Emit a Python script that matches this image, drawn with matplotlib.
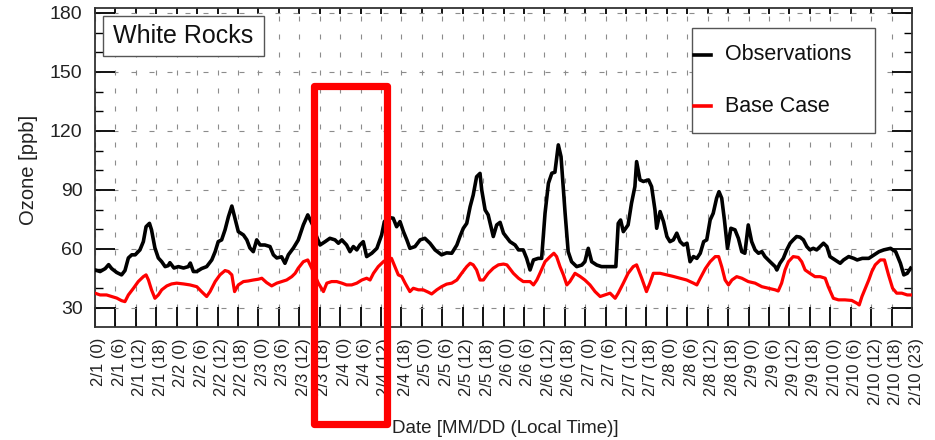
import numpy as np
import matplotlib
matplotlib.use("Agg")
import matplotlib.pyplot as plt
from matplotlib.patches import Rectangle
from matplotlib.lines import Line2D
from matplotlib.transforms import ScaledTranslation

plt.rcParams['font.family'] = ['Liberation Sans', 'DejaVu Sans']

site_name = "White Rocks"

# hours since 2/1 00:00 local time
obs_hours = [0, 1.5, 3, 4, 4.9, 6.4, 7.8, 8.8, 9.8, 10.8, 11.8, 13.2, 14.2, 15, 16, 16.6,
             17.6, 18.6, 19.6, 20.6, 21.5, 22, 23.2, 24.5, 26, 27.4, 28, 28.9, 29.9, 31.3,
             32.8, 34.3, 35.3, 36.2, 37.2, 38.2, 39.2, 40.2, 41.1, 42.1, 43.6, 44.6, 45.5,
             46.5, 47.5, 48.5, 49.9, 51.4, 52.4, 53.4, 54.8, 55.8, 56.8, 58.3, 59.7, 61.2,
             62.5, 64, 65.1, 66.1, 67.6, 69, 70.5, 71.5, 72.5, 73.9, 74.9, 75.9, 76.9, 77.8,
             78.8, 79.8, 81.3, 82.8, 84.2, 85, 86.3, 87.6, 88.6, 89.6, 90.6, 91.6, 92.5, 94,
             95.5, 96.9, 98.4, 99.9, 101.8, 103.3, 104.8, 106.3, 107.2, 108.2, 109.2, 110.2,
             111.1, 112.1, 113.1, 113.6, 114.6, 115.5, 117, 118, 119, 120, 121.9, 123.4,
             124.4, 125.8, 126.8, 127.8, 128.8, 130.2, 131.2, 132.2, 133.2, 134.2, 135.1,
             136.1, 136.9, 138.1, 139, 140, 141.5, 143, 143.9, 144.9, 145.9, 147.4, 148.8,
             150.3, 151.8, 153, 153.7, 154.4, 155.2, 156.6, 157.6, 158.6, 159.1, 160.1,
             161.1, 162.6, 163.5, 164.5, 165, 166, 167, 168, 168.9, 169.9, 170.9, 171.9,
             172.9, 173.9, 174.8, 175.8, 176.8, 177.8, 178.8, 179.7, 180.7, 181.6, 182.6,
             183.3, 184.1, 184.9, 185.8, 186.8, 188, 189, 190, 190.9, 191.9, 192.9, 193.9,
             194.9, 195.9, 196.8, 198.3, 199.8, 200.3, 201.2, 202.2, 203.2, 204.2, 205.1,
             206.1, 207.1, 208.1, 209.1, 210, 211, 212, 213, 214, 215, 215.9, 217.4, 218.9,
             219.9, 221.4, 222.9, 223.9, 225.4, 227.3, 228.8, 230.3, 231.7, 233.7, 235.2,
             236.6, 237.6, 238.6, 239.6]
obs_ozone = [49.3, 48.5, 50, 52, 50, 48, 46.8, 49, 55.4, 57, 57, 59.5, 63.7, 71.3, 73, 69.7,
             60.5, 55.4, 53.5, 51, 51.5, 53, 50.3, 51, 50.3, 51, 52.8, 48.5, 48.5, 50,
             51, 54.4, 58.6, 63.7, 64.6, 69.7, 76.4, 81.8, 75.6, 68.8, 67.1, 64.6, 60.5,
             58.6, 64.6, 62, 62, 61.2, 57, 55.4, 56, 52.7, 57, 60.5, 64.5, 72.2,
             77.3, 72, 66.3, 62, 63.7, 65.4, 64.6, 62.9, 64.6, 62, 58.6, 61.2, 59.5, 62,
             63.7, 56.1, 57.8, 60.3, 67.1, 73.9, 76, 75.6, 71.3, 73.9, 68.8, 64.6, 60.3, 61.2,
             64.6, 65.4, 62.9, 59.5, 57, 58, 57.8, 62, 66.3, 70.5, 73, 81.5,
             87.4, 96.7, 98.4, 90, 79.8, 77.3, 66.3, 72.2, 73.5, 68, 63.7, 62,
             59.5, 59.5, 55.2, 49.3, 54.4, 55.2, 55.2, 78.1, 93.4, 98.5, 99,
             112.9, 106.9, 78.1, 58.6, 53.5, 51, 51.8, 53.5, 60.3, 53.5, 51.8, 51,
             51, 51, 51, 73, 74.7, 68.8, 72.2, 83.2, 91.7, 104.4, 95.1,
             94.3, 95.1, 91.7, 79.8, 70.5, 79, 73.9, 66.3, 63.7, 64.6, 68, 63.7,
             62, 62.9, 53.5, 56.1, 55.2, 57.8, 63.7, 64.6, 74.7, 78.1, 85.8,
             89.1, 85.8, 74.7, 60.3, 70.5, 69.7, 65.4, 58.6, 57.8, 72.2, 63.7, 59.5,
             57.8, 58.6, 56.1, 53.5, 51, 49.3, 52.7, 55.2, 59.5, 62.9, 64.6,
             66.3, 66, 64.6, 61.2, 59.5, 60.3, 59.5, 61.2, 62.9, 61.2, 56.1, 54.4, 52.7,
             54.4, 56.1, 55.2, 54.4, 55.2, 55.2, 56.9, 58.6, 59.5, 60.3, 58.6,
             52.7, 46.8, 47.6, 50.2]

base_hours = [0, 1.5, 3.4, 4.9, 6.4, 7.8, 8.8, 9.8, 11.3, 12.7, 14.2, 15, 15.7, 16.6, 17.6,
              18.6, 19.6, 21.1, 22.5, 24, 26, 27.9, 29.9, 31.3, 32.8, 33.8, 35.3, 36.7, 38.2,
              39.2, 40.2, 41, 42.1, 43.6, 45, 46.5, 48, 49, 50.4, 51.9, 53.4, 54.8, 56.3,
              57.8, 58.8, 59.7, 61.2, 62.5, 64, 65.6, 67.1, 68.1, 69.5, 71, 72.5, 73.9, 75.4,
              76.9, 78.4, 79.8, 80.8, 81.8, 83.2, 84.7, 86, 87.1, 88.1, 89.1, 90.1, 91.1,
              92.5, 93.5, 95, 96.4, 97.9, 98.9, 100.4, 101.8, 103.3, 104.8, 106.3, 107.7,
              109.2, 110.2, 111.1, 112.1, 113.1, 114.1, 115.5, 117, 118.5, 120, 121, 122.9,
              124.4, 125.8, 127.8, 128.8, 129.8, 130.7, 132.2, 133.7, 134.8, 135.6, 136.6,
              137.6, 138.6, 139.5, 141, 142.5, 143.9, 145.4, 146.9, 148.4, 149.8, 151.3,
              152.8, 153.7, 155.2, 156.6, 158.1, 159.1, 160.6, 162, 163, 164, 166, 168,
              169.9, 171.9, 173.8, 175.8, 176.8, 177.8, 179.3, 180.7, 182.2, 183.2, 184.1,
              185.1, 186.1, 187.1, 188.5, 190, 191.9, 193.9, 195.9, 197.8, 199.8, 200.7,
              201.7, 202.7, 203.7, 205.1, 206.6, 207.6, 208.6, 210, 211.5, 213, 214.5,
              215.4, 216.9, 218.4, 220.3, 222.3, 223.8, 224.5, 225.3, 226.3, 227.3, 228.2,
              229.2, 230.7, 231.9, 233.1, 234.3, 235.5, 237, 238.6, 239.6]
base_ozone = [37.5, 36.6, 36.6, 35.8, 35, 33.7, 33.2, 36.6, 40, 43.4, 45.9, 46.8, 44.2, 39.2, 34.9,
              36.6, 39.2, 41.2, 42.2, 42.6, 42.2, 41.7, 40.8, 38.3, 35.8, 38.3, 43.4, 46.8, 49,
              48.5, 46.8, 38.3, 41.7, 43.4, 43.7, 44.2, 44.6, 45.1, 42.9, 41.2, 42.6, 43.4, 44.2,
              45.9, 47.6, 50.2, 53.5, 54.4, 49, 42.6, 38.3, 42.6, 43.4, 43.4, 42.6, 41.7, 41.7,
              42.6, 44.2, 45.1, 44.2, 47.6, 51, 53.5, 55, 55.2, 51, 46.8, 46, 42.6,
              38.3, 40, 39.2, 39.2, 38, 37.1, 39.2, 40.8, 42.1, 42.6, 44.2, 47.6,
              51, 52.7, 51.9, 49.3, 44.2, 44.2, 47.6, 50.2, 51.9, 52.3, 51.9, 47.6,
              45.1, 43.4, 43.4, 41.7, 44.2, 47.6, 53.5, 56.1, 57.8, 56.1, 51,
              46.8, 41.7, 43.4, 47.6, 46, 44.2, 41.7, 38.3, 35.8, 36.6, 37.5,
              34.9, 37.5, 42.6, 47.6, 51, 51.9, 45.1, 38.3, 42.6, 47.6, 47.6, 46.8,
              46, 45.1, 44.2, 42.6, 41.7, 45.1, 50, 53.5, 56.1, 56.1, 51,
              44.2, 41.7, 44.2, 45.9, 45.1, 43.4, 42.6, 40.8, 40, 39.2, 38.6,
              42.6, 49.3, 53.5, 56.1, 55.7, 53.5, 49.3, 47.6, 45.9, 45.9, 45.1,
              40.8, 34.9, 34.1, 34.1, 33.8, 32.4, 31.5, 35.8, 40, 44.2, 48.5,
              51.9, 54.4, 54.4, 46.8, 40, 37.5, 37.5, 36.6, 36.6]

days = [1, 2, 3, 4, 5, 6, 7, 8, 9, 10]
tick_hours_of_day = [0, 6, 12, 18]
tick_labels = [f"2/{d} ({h})" for d in days for h in tick_hours_of_day] + ["2/10 (23)"]
tick_pos = list(range(0, 241, 6))

W, H = 935, 440
fig = plt.figure(figsize=(W / 100, H / 100), dpi=100)
ax = fig.add_axes([95 / W, 1 - 327 / H, 817 / W, 319 / H])

ax.plot(obs_hours, obs_ozone, color='black', lw=2.6, zorder=4, solid_joinstyle='round')
ax.plot(base_hours, base_ozone, color='#ff0000', lw=2.3, zorder=3, solid_joinstyle='round')

ax.set_xlim(0, 240)
ax.set_ylim(20.3, 182.5)
ax.set_xticks(tick_pos)
ax.set_xticklabels(tick_labels, rotation=90, fontsize=12, color='#222222')
ax.set_yticks([30, 60, 90, 120, 150, 180])
ax.set_yticks(np.arange(30, 181, 10), minor=True)
ax.tick_params(axis='y', labelsize=14, colors='#222222')

ax.tick_params(axis='x', which='major', direction='in', length=14.5, width=1.3,
               pad=8, top=True, color='black')
ax.tick_params(axis='y', which='major', direction='in', length=14.5, width=1.3,
               pad=9, right=True, color='black')
ax.tick_params(axis='y', which='minor', direction='in', length=5.5, width=1.0,
               right=True, color='black')
for t in ax.xaxis.get_major_ticks():
    t.tick2line.set_markersize(4)

# shift rotated labels slightly right like the original
offset = ScaledTranslation(4 / 100, 0, fig.dpi_scale_trans)
for lab in ax.get_xticklabels():
    lab.set_transform(lab.get_transform() + offset)

ax.grid(True, which='major', linestyle=(0, (4.5, 11.7)), color='#8c8c8c', lw=0.8)
ax.set_axisbelow(True)
for sp in ax.spines.values():
    sp.set_linewidth(1.3)
    sp.set_color('#333333')

fig.text(28 / W, 1 - 170 / H, "Ozone [ppb]", rotation=90, ha='center', va='center',
         fontsize=14.5, color='#222222')
fig.text(505 / W, 1 - 428 / H, "Date [MM/DD (Local Time)]", ha='center', va='center',
         fontsize=13.5, color='#222222')

# site name box
fig.add_artist(Rectangle((103 / W, 1 - 56 / H), 161 / W, 40 / H, transform=fig.transFigure,
                         facecolor='white', edgecolor='#555555', lw=1.0, zorder=5))
fig.text(183.5 / W, 1 - 36 / H, site_name, ha='center', va='center', fontsize=18,
         color='#111111', zorder=6)

# legend box
fig.add_artist(Rectangle((692 / W, 1 - 133 / H), 183 / W, 105 / H, transform=fig.transFigure,
                         facecolor='white', edgecolor='#555555', lw=1.0, zorder=5))
for yy, col, lab in [(55, 'black', 'Observations'), (106.5, '#ff0000', 'Base Case')]:
    fig.add_artist(Line2D([694 / W, 711 / W], [1 - yy / H, 1 - yy / H], color=col, lw=2.6,
                          transform=fig.transFigure, zorder=6))
    fig.text(725 / W, 1 - yy / H, lab, ha='left', va='center', fontsize=15.5,
             color='#111111', zorder=6)

# red highlight frame
fig.add_artist(Rectangle((313.5 / W, 1 - 424 / H), 73.5 / W, 337.5 / H,
                         transform=fig.transFigure, fill=False, edgecolor='#ff0000',
                         lw=5.2, joinstyle='round', zorder=10))

fig.savefig("out.png", dpi=100)
